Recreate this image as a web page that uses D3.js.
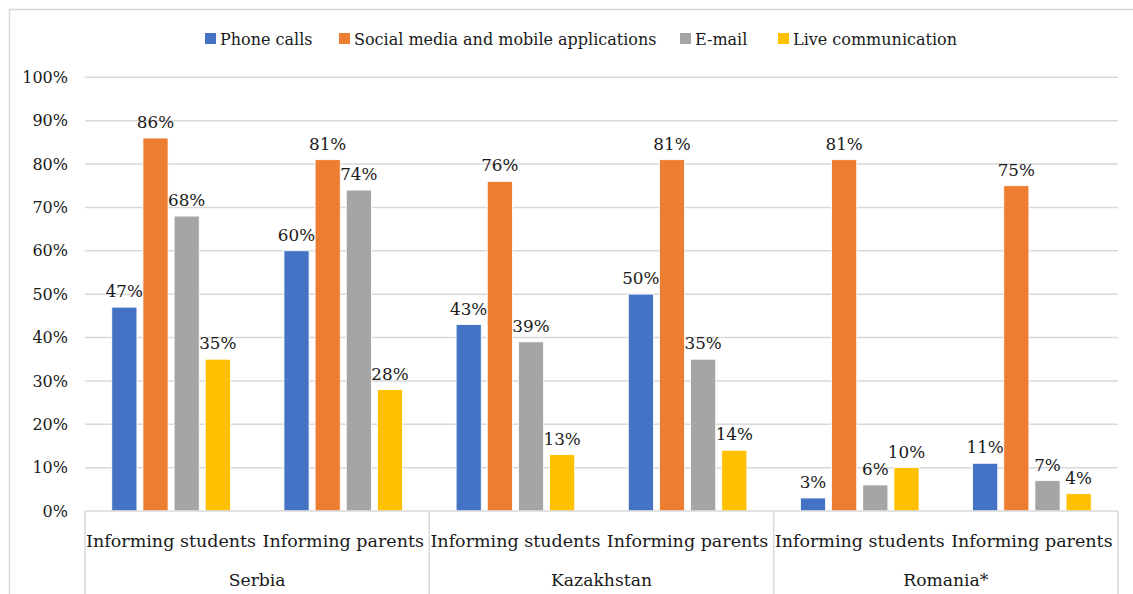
<!DOCTYPE html>
<html>
<head>
<meta charset="utf-8">
<script src="https://cdn.jsdelivr.net/npm/d3@7/dist/d3.min.js"></script>
<style>
  html, body { margin: 0; padding: 0; background: #fff; }
  svg { display: block; }
  text { font-family: "DejaVu Serif", "Liberation Serif", serif; fill: #1a1a1a; }
</style>
</head>
<body>
<svg id="chart" width="1133" height="594"></svg>
<script>
// Survey data: share of respondents using each channel
const countries = ["Serbia", "Kazakhstan", "Romania*"];
const audiences = ["Informing students", "Informing parents"];
const seriesNames = ["Phone calls", "Social media and mobile applications", "E-mail", "Live communication"];
const seriesColors = ["#4472C4", "#ED7D31", "#A5A5A5", "#FFC000"];
// one entry per country/audience pair, in the order of the category axis
const phoneCalls   = [47, 60, 43, 50, 3, 11];
const socialMedia  = [86, 81, 76, 81, 81, 75];
const email        = [68, 74, 39, 35, 6, 7];
const liveComm     = [35, 28, 13, 14, 10, 4];
const yTicks = [0, 10, 20, 30, 40, 50, 60, 70, 80, 90, 100];

const seriesValues = [phoneCalls, socialMedia, email, liveComm];
const groups = [];
countries.forEach(c => audiences.forEach(a => groups.push({ country: c, audience: a, key: c + "|" + a })));
const rows = groups.map((g, i) => ({ ...g, values: seriesValues.map((s, si) => ({ series: si, value: s[i] })) }));

const svg = d3.select("#chart");
const W = 1133, H = 594;
const plot = { left: 85, right: 1118, top: 77.3, bottom: 511 };

// outer chart frame
svg.append("rect").attr("x", 9.5).attr("y", 9.5).attr("width", 1140).attr("height", 600)
  .attr("fill", "none").attr("stroke", "#d9d9d9").attr("stroke-width", 1.5);

const y = d3.scaleLinear().domain([0, 100]).range([plot.bottom, plot.top]);
const x0 = d3.scaleBand().domain(groups.map(g => g.key)).range([plot.left, plot.right]).padding(0);
const x1 = d3.scaleBand().domain(d3.range(seriesNames.length)).range([0, x0.bandwidth()])
  .paddingInner(0.1935).paddingOuter(0.86);
const xc = d3.scaleBand().domain(countries).range([plot.left, plot.right]).padding(0);

// horizontal gridlines
svg.append("g").selectAll("line").data(yTicks.filter(t => t > 0)).join("line")
  .attr("x1", plot.left).attr("x2", plot.right)
  .attr("y1", d => y(d)).attr("y2", d => y(d))
  .attr("stroke", "#d9d9d9").attr("stroke-width", 1.5);

// y axis labels
const yAxis = d3.axisLeft(y).tickValues(yTicks).tickFormat(d => d + "%").tickSize(0).tickPadding(17);
const yg = svg.append("g").attr("transform", `translate(${plot.left},0)`).call(yAxis);
yg.select(".domain").remove();
yg.selectAll("text").attr("font-size", 16).attr("font-family", "DejaVu Serif").attr("fill", "#1a1a1a");

// bars with value labels
const gBars = svg.append("g");
const cluster = gBars.selectAll("g").data(rows).join("g")
  .attr("transform", d => `translate(${x0(d.key)},0)`);
cluster.selectAll("rect").data(d => d.values).join("rect")
  .attr("x", d => x1(d.series)).attr("width", x1.bandwidth())
  .attr("y", d => y(d.value)).attr("height", d => y(0) - y(d.value))
  .attr("fill", d => seriesColors[d.series])
  .attr("stroke", "#fff").attr("stroke-width", 0.8);
cluster.selectAll("text").data(d => d.values).join("text")
  .attr("x", d => x1(d.series) + x1.bandwidth() / 2)
  .attr("y", d => y(d.value) - 10)
  .attr("text-anchor", "middle").attr("font-size", 16.8)
  .text(d => d.value + "%");

// two-level category axis
const axisG = svg.append("g");
axisG.append("line").attr("x1", plot.left).attr("x2", plot.right)
  .attr("y1", plot.bottom).attr("y2", plot.bottom)
  .attr("stroke", "#d9d9d9").attr("stroke-width", 1.5);
const boundaries = countries.map(c => xc(c)).concat([plot.right]);
axisG.selectAll("line.sep").data(boundaries).join("line").attr("class", "sep")
  .attr("x1", d => d).attr("x2", d => d)
  .attr("y1", plot.bottom).attr("y2", H)
  .attr("stroke", "#d9d9d9").attr("stroke-width", 1.5);
axisG.selectAll("text.sub").data(groups).join("text").attr("class", "sub")
  .attr("x", d => x0(d.key) + x0.bandwidth() / 2).attr("y", 547)
  .attr("text-anchor", "middle").attr("font-size", 17.5)
  .text(d => d.audience);
axisG.selectAll("text.cty").data(countries).join("text").attr("class", "cty")
  .attr("x", d => xc(d) + xc.bandwidth() / 2).attr("y", 586)
  .attr("text-anchor", "middle").attr("font-size", 17.2)
  .text(d => d);

// legend
const legendX = [205, 339, 680, 778];
const legend = svg.append("g").selectAll("g").data(seriesNames).join("g")
  .attr("transform", (d, i) => `translate(${legendX[i]},33)`);
legend.append("rect").attr("width", 11).attr("height", 11).attr("fill", (d, i) => seriesColors[i]);
legend.append("text").attr("x", 15).attr("y", 11.5).attr("font-size", 16).text(d => d);
</script>
</body>
</html>
